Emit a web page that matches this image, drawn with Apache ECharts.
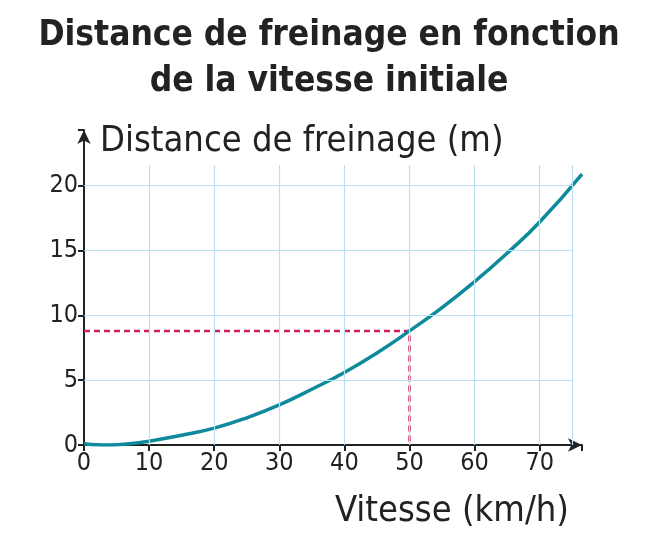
<!DOCTYPE html>
<html><head><meta charset="utf-8">
<script src="https://cdn.jsdelivr.net/npm/echarts@6/dist/echarts.min.js"></script>
<style>body{margin:0}#c{width:658px;height:535px}</style></head>
<body><div id="c"></div>
<script>
const curve = [[0,0.1],[2,0.02],[4,0],[7,0.1],[10,0.3],[15,0.75],[20,1.3],[25,2.1],[30,3.1],[35,4.3],[40,5.6],[45,7.1],[50,8.8],[55,10.6],[60,12.6],[65,14.8],[70,17.2],[76.5,20.9]];
const xTicks = [10,20,30,40,50,60,70,75];
const yTicks = [5,10,15,20];
const readV = 50, readD = 8.8;
const gridTop = 21.6, gridRight = 75;
const ff = '"DejaVu Sans Condensed", "Liberation Sans Narrow", "Open Sans", sans-serif';
const gl = [];
xTicks.forEach(v=>gl.push([{coord:[v,0]},{coord:[v,gridTop]}]));
yTicks.forEach(v=>gl.push([{coord:[0,v]},{coord:[gridRight,v]}]));
const ch = echarts.init(document.getElementById('c'));
ch.setOption({
  animation:false,
  title:{text:'Distance de freinage en fonction\nde la vitesse initiale',left:'center',top:8,
    textStyle:{fontFamily:ff,fontSize:35,fontWeight:'bold',color:'#222',lineHeight:46}},
  grid:{left:84,right:76,top:130,bottom:90},
  xAxis:{type:'value',min:0,max:76.5,interval:10,splitLine:{show:false},
    axisLine:{lineStyle:{color:'#222',width:2},symbol:['none','arrow'],symbolSize:[10,14]},
    axisTick:{show:true,length:6,lineStyle:{color:'#222',width:2}},
    axisLabel:{fontFamily:ff,fontSize:25,color:'#222',margin:6,formatter:v=>v%10===0&&v<=70?v:''}},
  yAxis:{type:'value',min:0,max:24.3,interval:5,splitLine:{show:false},
    axisLine:{show:true,lineStyle:{color:'#222',width:2},symbol:['none','arrow'],symbolSize:[10,14]},
    axisTick:{show:true,length:6,lineStyle:{color:'#222',width:2}},
    axisLabel:{fontFamily:ff,fontSize:25,color:'#222',margin:6,formatter:v=>v%5===0&&v<=20?v:''}},
  graphic:[
    {type:'text',left:100,top:124,style:{text:'Distance de freinage (m)',font:'36px '+ff,fill:'#222'}},
    {type:'text',left:335,top:494,style:{text:'Vitesse (km/h)',font:'36px '+ff,fill:'#222'}}
  ],
  series:[
    {type:'line',data:[],silent:true,markLine:{symbol:'none',silent:true,label:{show:false},
      lineStyle:{color:'#b8e1f4',width:1.2,type:'solid'},data:gl},z:1},
    {type:'line',data:[[0,readD],[readV,readD],[readV,0]],symbol:'none',
      lineStyle:{color:'#cc1f5e',width:2.5,type:[6,4]},z:2},
    {type:'line',data:curve,smooth:true,symbol:'none',lineStyle:{color:'#0e8a9c',width:3.5},z:3}
  ]
});
</script></body></html>
